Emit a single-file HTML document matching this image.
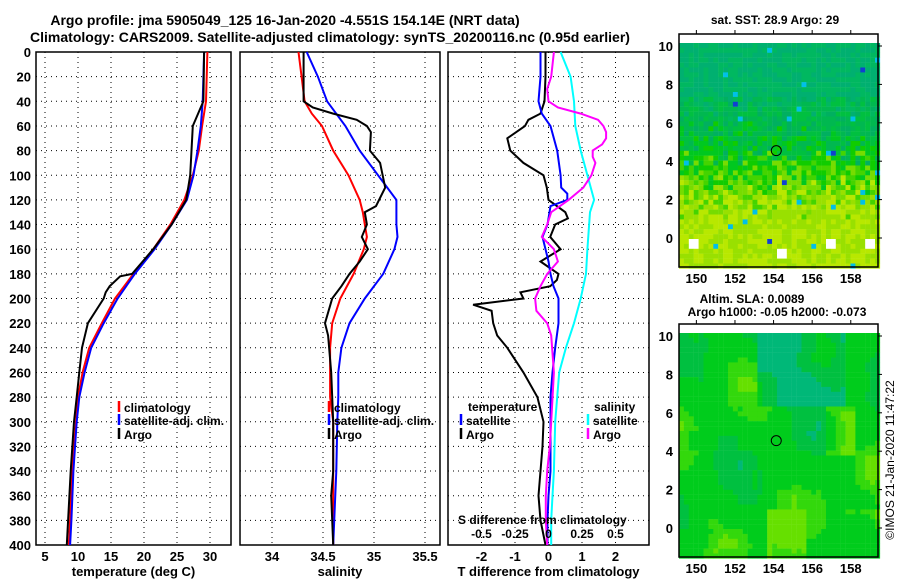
<!DOCTYPE html>
<html><head><meta charset="utf-8"><style>
body{margin:0;background:#fff;}
svg{display:block;font-family:"Liberation Sans",Arial,sans-serif;font-weight:bold;}
</style></head><body>
<svg id="c" width="900" height="580" viewBox="0 0 900 580">
<text x="285" y="25" font-size="14" text-anchor="middle">Argo profile: jma 5905049_125 16-Jan-2020 -4.551S 154.14E (NRT data)</text>
<text x="330" y="42" font-size="14" text-anchor="middle">Climatology: CARS2009. Satellite-adjusted climatology: synTS_20200116.nc (0.95d earlier)</text>
<g id="g"></g>
<text x="775" y="24" font-size="12" text-anchor="middle">sat. SST: 28.9 Argo: 29</text>
<text x="752" y="303" font-size="12" text-anchor="middle">Altim. SLA: 0.0089</text>
<text x="777" y="316" font-size="12" text-anchor="middle">Argo h1000: -0.05 h2000: -0.073</text>
<text transform="translate(894,460) rotate(-90)" font-size="12" font-weight="normal" text-anchor="middle">©IMOS 21-Jan-2020 11:47:22</text>
</svg>
<script>
// ---------- data ----------
const tempClimDepth=[0,20,40,60,80,100,120,140,160,180,200,220,240,260,280,300,340,380,400];
const tempClim=[29.6,29.5,29.4,28.8,28.3,27.4,26.1,24.0,21.4,18.4,15.6,13.6,11.7,10.7,10.0,9.7,9.1,8.8,8.6];
const tempSatDepth=[0,20,40,60,80,100,120,140,160,180,200,220,240,260,280,300,340,380,400];
const tempSat=[29.1,29.0,28.9,28.6,28.1,27.5,26.5,24.2,21.6,18.6,16.0,13.9,12.0,11.0,10.2,9.8,9.3,9.0,8.8];
const tempArgoDepth=[0,40,50,60,80,100,110,120,140,160,170,180,182,190,195,200,220,240,260,280,300,340,380,400];
const tempArgo=[29.1,29.0,28.2,27.4,27.2,27.0,26.7,26.4,24.2,21.4,19.8,18.2,16.4,14.8,14.2,13.9,11.5,10.6,10.2,9.8,9.4,8.9,8.5,8.3];

const salClimDepth=[0,20,40,50,60,80,100,120,130,140,150,160,180,200,220,240,280,300,340,400];
const salClim=[34.26,34.29,34.32,34.39,34.49,34.60,34.75,34.86,34.89,34.91,34.93,34.90,34.80,34.67,34.59,34.57,34.57,34.60,34.60,34.60];
const salSatDepth=[0,20,40,60,80,100,120,140,150,160,180,200,220,240,260,280,300,340,400];
const salSat=[34.34,34.45,34.54,34.72,34.86,35.04,35.22,35.22,35.23,35.20,35.09,34.91,34.76,34.68,34.65,34.65,34.64,34.63,34.60];
const salArgoDepth=[0,40,45,50,55,60,65,80,90,110,125,130,140,150,160,170,180,190,200,220,230,260,300,340,360,400];
const salArgo=[34.31,34.31,34.40,34.60,34.83,34.93,34.97,34.96,35.06,35.11,35.02,34.91,34.93,34.88,34.94,34.86,34.76,34.68,34.59,34.52,34.55,34.58,34.60,34.60,34.58,34.60];

const dTArgoDepth=[0,20,40,50,55,60,70,80,90,100,110,120,130,135,140,150,160,170,180,185,190,195,200,205,210,220,230,240,260,280,300,320,340,360,380,400];
const dTArgo=[-0.09,-0.09,-0.12,-0.24,-0.6,-0.7,-1.23,-1.14,-0.75,-0.15,-0.05,0.0,0.5,0.58,0.2,0.05,0.36,-0.24,0.3,0.25,0.05,-0.84,-0.75,-2.25,-1.7,-1.65,-1.53,-1.23,-0.75,-0.33,-0.15,-0.18,-0.24,-0.3,-0.24,-0.09];
const dTSatDepth=[0,20,40,50,60,80,100,110,115,120,125,140,150,160,170,180,190,200,220,240,260,280,340,360,380,400];
const dTSat=[-0.24,-0.24,-0.3,-0.2,0.06,0.26,0.36,0.38,0.56,0.56,0.06,-0.03,-0.18,-0.09,0.0,0.06,0.15,0.3,0.3,0.2,0.12,0.06,0.06,0.0,-0.03,-0.03];
const dSSatDepth=[0,20,40,60,80,100,120,130,160,180,200,220,240,260,300,340,360,380,400];
const dSSat=[0.09,0.165,0.19,0.2,0.24,0.29,0.34,0.31,0.29,0.28,0.24,0.19,0.13,0.08,0.05,0.04,0.03,0.02,0.02];
const dSArgoDepth=[0,20,30,40,45,50,55,60,65,70,75,80,85,90,100,110,120,130,140,150,160,170,180,190,200,210,220,230,260,300,320,340,360,380,400];
const dSArgo=[0.04,0.02,-0.01,0.0,0.07,0.24,0.37,0.41,0.43,0.43,0.40,0.33,0.33,0.35,0.32,0.26,0.15,0.02,-0.01,-0.05,0.04,0.07,-0.01,-0.06,-0.1,-0.09,-0.01,0.02,0.04,0.02,0.01,-0.01,-0.02,-0.02,-0.01];

const depthTicks=[0,20,40,60,80,100,120,140,160,180,200,220,240,260,280,300,320,340,360,380,400];
const tempTicks=[5,10,15,20,25,30];
const salTicks=[34,34.5,35,35.5];
const salTickLabels=["34","34.5","35","35.5"];
const dTTicks=[-2,-1,0,1,2];
const dSTicks=[-0.5,-0.25,0,0.25,0.5];
const dSTickLabels=["-0.5","-0.25","0","0.25","0.5"];
const latTicks=[0,2,4,6,8,10];
const lonTicks=[150,152,154,156,158];

// ---------- helpers ----------
const NS="http://www.w3.org/2000/svg";
const G=document.getElementById('g');
function mk(tag,attrs,parent){const e=document.createElementNS(NS,tag);for(const k in attrs)e.setAttribute(k,attrs[k]);(parent||G).appendChild(e);return e;}
const Y0=52,Y1=545;
const yD=d=>Y0+(d/400)*(Y1-Y0);
function lin(d0,d1,r0,r1){return v=>r0+(v-d0)/(d1-d0)*(r1-r0);}

function panel(name,x0,x1,xs,ticks,labels,title,leftLabels){
  const frame=mk('rect',{x:x0,y:Y0,width:x1-x0,height:Y1-Y0,fill:'none',stroke:'#000','stroke-width':1.5});
  
  
  depthTicks.forEach((d,i)=>{
    if(i>0&&i<depthTicks.length-1){
      const l=mk('line',{x1:x0,x2:x1,y1:yD(d),y2:yD(d),stroke:'#000','stroke-width':1,'stroke-dasharray':'1,4'});
      
      
    }
    if(leftLabels){
      const t=mk('text',{x:x0-5,y:yD(d)+5,'font-size':13,'text-anchor':'end'});
      t.textContent=d;
      
      
    }
  });
  ticks.forEach((v,i)=>{
    const x=xs(v);
    const l=mk('line',{x1:x,x2:x,y1:Y0,y2:Y1,stroke:'#000','stroke-width':1,'stroke-dasharray':'1,4'});
    
    
    const t=mk('text',{x:x,y:561,'font-size':13,'text-anchor':'middle'});
    t.textContent=labels?labels[i]:v;
    
    
  });
  const tt=mk('text',{x:(x0+x1)/2,y:576,'font-size':13,'text-anchor':'middle'});
  tt.textContent=title;
  
  
}
function series(name,depths,vals,xs,color,w){
  const pts=depths.map((d,i)=>xs(vals[i]).toFixed(1)+','+yD(d).toFixed(1)).join(' ');
  const p=mk('polyline',{points:pts,fill:'none',stroke:color,'stroke-width':w||2});
  
  
}
function legend(name,x,y,color,label){
  const l=mk('line',{x1:x,x2:x,y1:y-11,y2:y,stroke:color,'stroke-width':2.5});
  
  
  const t=mk('text',{x:x+5,y:y,'font-size':12});
  t.textContent=label;
  
  
}
function txt(name,x,y,s,anchor,size){
  const t=mk('text',{x:x,y:y,'font-size':size||12,'text-anchor':anchor||'start'});
  t.textContent=s;
  
  
}

// panel 1: temperature
const xT=lin(5,30,45,210);
panel('temperature-panel',36,231,xT,tempTicks,null,'temperature (deg C)',true);
series('temperature-climatology-line',tempClimDepth,tempClim,xT,'#f00');
series('temperature-satellite-line',tempSatDepth,tempSat,xT,'#00f');
series('temperature-argo-line',tempArgoDepth,tempArgo,xT,'#000');
legend('legend-climatology',119,412,'#f00','climatology');
legend('legend-satellite-adj',119,425,'#00f','satellite-adj. clim.');
legend('legend-argo',119,439,'#000','Argo');

// panel 2: salinity
const xS=lin(34,35.5,272,425);
panel('salinity-panel',240,440,xS,salTicks,salTickLabels,'salinity',false);
series('salinity-climatology-line',salClimDepth,salClim,xS,'#f00');
series('salinity-satellite-line',salSatDepth,salSat,xS,'#00f');
series('salinity-argo-line',salArgoDepth,salArgo,xS,'#000');
legend('legend2-climatology',329,412,'#f00','climatology');
legend('legend2-satellite-adj',329,425,'#00f','satellite-adj. clim.');
legend('legend2-argo',329,439,'#000','Argo');

// panel 3: differences
const xdT=lin(-3,3,448,649);
const xdS=lin(-0.75,0.75,448,649);
panel('difference-panel',448,649,xdT,dTTicks,null,'T difference from climatology',false);
series('dT-argo-line',dTArgoDepth,dTArgo,xdT,'#000');
series('dT-satellite-line',dTSatDepth,dTSat,xdT,'#00f');
series('dS-satellite-line',dSSatDepth,dSSat,xdS,'#0ff');
series('dS-argo-line',dSArgoDepth,dSArgo,xdS,'#f0f');
txt('legend3-temperature-header',468,411,'temperature');
legend('legend3-t-satellite',461,425,'#00f','satellite');
legend('legend3-t-argo',461,439,'#000','Argo');
txt('legend3-salinity-header',594,411,'salinity');
legend('legend3-s-satellite',588,425,'#0ff','satellite');
legend('legend3-s-argo',588,439,'#f0f','Argo');
txt('s-difference-title',458,524,'S difference from climatology');
dSTicks.forEach((v,i)=>txt('s-diff-tick-label',xdS(v),538,dSTickLabels[i],'middle'));

// ---------- maps ----------
function hash(a,b,s){let h=(a*374761393+b*668265263+s*1442695041)|0;h=(h^(h>>>13))*1274126177|0;return ((h^(h>>>16))>>>0)/4294967296;}
function mapPanel(name,bx,by,bw,bh,lat0y,latStep,kind){
  const g=mk('g',{});
  
  
  const top=by+9, cw=4.9, ch=4.9;
  const nx=Math.ceil(bw/cw), ny=Math.ceil((by+bh-top)/ch);
  for(let j=0;j<ny;j++){for(let i=0;i<nx;i++){
    const lat=(lat0y-(top+j*ch))/latStep;
    const lon=149.1+(i*cw)/19.3;
    let col;
    if(kind==='sst'){
      const r=hash(i,j,1), r2=hash(i,j,7);
      let t=(4.3-lat)/3.5+(r-0.5)*0.7;
      if(lat>7.5) t-=0.3;
      if(t<-0.9) col=r2<0.5?'#00b070':'#00b860';
      else if(t<-0.2) col=r2<0.4?'#00b850':(r2<0.8?'#00c040':'#00b060');
      else if(t<0.2) col=r2<0.5?'#00c820':'#10cc00';
      else if(t<0.6) col=r2<0.5?'#44d400':'#77dc00';
      else col=r2<0.5?'#99e000':'#b8e800';
      const r3=hash(i,j,3);
      if(r3<0.012) col='#00c0e8'; else if(r3<0.016) col='#1040d0';
      if(lat<1.2&&lat>-1&&hash(i>>1,j>>1,9)<0.08) col='#fff';
    } else {
      const r=hash(i>>2,j>>2,5);
      let v=0.6+0.15*Math.sin(lon*1.3+lat*0.6)+0.15*Math.cos(lat*0.8-lon*0.45)+(r-0.5)*0.12;
      if(lat>6.5&&lon>153&&lon<157.5) v-=0.4;
      if(lat<1&&((lon>153.5&&lon<155.5)||(lon>157.5))) v+=0.3;
      if(lat>4&&lat<6.5&&lon>156.5&&lon<158) v+=0.3;
      col=v<0.3?'#00b878':v<0.45?'#00c040':v<0.75?'#00cc1c':v<0.88?'#33d80c':'#66e000';
    }
    mk('rect',{x:(bx+i*cw).toFixed(1),y:(top+j*ch).toFixed(1),width:cw+0.2,height:ch+0.2,fill:col},g);
  }}
  const circ=mk('circle',{cx:bx+(154.14-149.1)*19.3,cy:lat0y-4.55*latStep,r:5,fill:'none',stroke:'#000','stroke-width':1});
  
  
  const f=mk('rect',{x:bx,y:by,width:bw,height:bh,fill:'none',stroke:'#000','stroke-width':1.5});
  
  
  latTicks.forEach(v=>{
    const y=lat0y-v*latStep;
    txt(name+'-lat-label',bx-6,y+5,String(v),'end',13);
    mk('line',{x1:bx+bw,x2:bx+bw+4,y1:y,y2:y,stroke:'#000'});
  });
  lonTicks.forEach(v=>{
    const x=bx+(v-149.1)*19.3;
    txt(name+'-lon-label',x,by+bh+16,String(v),'middle',13);
    mk('line',{x1:x,x2:x,y1:by,y2:by-4,stroke:'#000'});
  });
}
mapPanel('sst-map',679,34,199,233,238,19.2,'sst');
mapPanel('sla-map',679,324,199,233,528,19.2,'sla');
</script>
</body></html>
